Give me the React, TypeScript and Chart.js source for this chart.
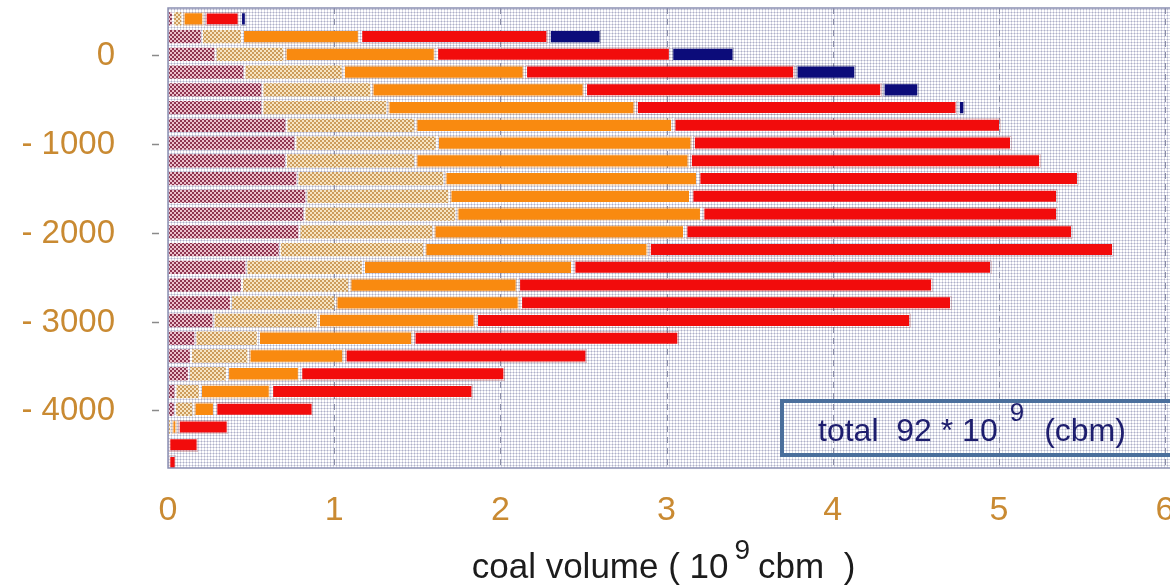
import React, { useEffect, useRef } from 'react';
import { Chart, registerables } from 'chart.js';

Chart.register(...registerables);

// Depth of each coal layer band (m)
const depths = [400, 200, 0, -200, -400, -600, -800, -1000, -1200, -1400, -1600, -1800, -2000, -2200, -2400, -2600, -2800, -3000, -3200, -3400, -3600, -3800, -4000, -4200, -4400, -4600];

// Volumes per class (10^9 cbm)
const mauveVals = [0.03, 0.204, 0.286, 0.46, 0.568, 0.568, 0.713, 0.767, 0.71, 0.779, 0.833, 0.821, 0.791, 0.673, 0.472, 0.445, 0.379, 0.274, 0.165, 0.138, 0.126, 0.045, 0.042, 0, 0, 0];
const tanVals = [0.057, 0.241, 0.415, 0.592, 0.656, 0.752, 0.775, 0.851, 0.778, 0.884, 0.86, 0.914, 0.806, 0.869, 0.701, 0.646, 0.628, 0.628, 0.376, 0.346, 0.229, 0.147, 0.111, 0.02, 0, 0];
const orangeVals = [0.132, 0.71, 0.911, 1.095, 1.284, 1.494, 1.552, 1.539, 1.651, 1.527, 1.455, 1.479, 1.515, 1.35, 1.265, 1.014, 1.11, 0.95, 0.935, 0.577, 0.439, 0.427, 0.13, 0.037, 0, 0];
const redVals = [0.214, 1.136, 1.416, 1.629, 1.792, 1.939, 1.975, 1.924, 2.117, 2.294, 2.21, 2.144, 2.336, 2.803, 2.523, 2.501, 2.603, 2.622, 1.603, 1.465, 1.238, 1.221, 0.595, 0.31, 0.186, 0.054];
const navyVals = [0.042, 0.319, 0.382, 0.367, 0.222, 0.046, 0, 0, 0, 0, 0, 0, 0, 0, 0, 0, 0, 0, 0, 0, 0, 0, 0, 0, 0, 0];

const xTicks = [0, 1, 2, 3, 4, 5, 6];
const xTickLabels = ['0', '1', '2', '3', '4', '5', '6'];
const yTicks = [0, -1000, -2000, -3000, -4000];
const yTickLabels = ['0', '- 1000', '- 2000', '- 3000', '- 4000'];
const xTitleParts = ['coal volume ( 10', '9', 'cbm  )'];
const totalParts = ['total  92 * 10', '9', '(cbm)'];

const FONT = '"Liberation Sans", Arial, sans-serif';

function makePattern(size: number, draw: (c: CanvasRenderingContext2D) => void) {
  const cv = document.createElement('canvas');
  cv.width = size;
  cv.height = size;
  const c = cv.getContext('2d')!;
  draw(c);
  return c.createPattern(cv, 'repeat')!;
}

export default function App() {
  const ref = useRef<HTMLCanvasElement>(null);

  useEffect(() => {
    const canvas = ref.current!;
    const mauvePat = makePattern(4, (c) => {
      c.fillStyle = '#ecc0cc';
      c.fillRect(0, 0, 4, 4);
      c.fillStyle = '#8e3550';
      c.fillRect(0, 0, 2, 2);
      c.fillRect(2, 2, 2, 2);
    });
    const tanPat = makePattern(4, (c) => {
      c.fillStyle = '#f7e4c2';
      c.fillRect(0, 0, 4, 4);
      c.fillStyle = '#cc9c5c';
      c.fillRect(0, 0, 2, 2);
      c.fillRect(2, 2, 2, 2);
    });
    const bgPat = makePattern(3, (c) => {
      c.fillStyle = '#ffffff';
      c.fillRect(0, 0, 3, 3);
      c.fillStyle = '#d8d9e6';
      c.fillRect(0, 0, 3, 1);
      c.fillRect(0, 0, 1, 3);
      c.fillStyle = '#aeb0c8';
      c.fillRect(0, 0, 1, 1);
    });

    const toPts = (vals: number[]) => vals.map((v, i) => ({ x: v > 0 ? v : null, y: depths[i] }));

    const decor = {
      id: 'decor',
      beforeDraw(chart: any) {
        const { ctx, chartArea: a } = chart;
        ctx.save();
        ctx.fillStyle = bgPat;
        ctx.fillRect(a.left, a.top, a.right - a.left + 10, a.bottom - a.top);
        ctx.restore();
      },
      beforeDatasetsDraw(chart: any) {
        const { ctx, chartArea: a } = chart;
        const xs = chart.scales.x;
        ctx.save();
        ctx.strokeStyle = '#8a8da6';
        ctx.lineWidth = 1;
        ctx.setLineDash([6, 5]);
        xTicks.forEach((v) => {
          if (v === 0) return;
          const px = Math.round(xs.getPixelForValue(v)) + 0.5;
          ctx.beginPath();
          ctx.moveTo(px, a.top);
          ctx.lineTo(px, a.bottom);
          ctx.stroke();
        });
        ctx.restore();
      },
      afterDatasetsDraw(chart: any) {
        const { ctx, chartArea: a } = chart;
        const ys = chart.scales.y;
        ctx.save();
        // frame
        ctx.strokeStyle = '#8c90b2';
        ctx.lineWidth = 1.5;
        ctx.beginPath();
        ctx.moveTo(a.right + 10, a.top);
        ctx.lineTo(a.left, a.top);
        ctx.lineTo(a.left, a.bottom);
        ctx.lineTo(a.right + 10, a.bottom);
        ctx.stroke();
        // y tick dashes
        ctx.strokeStyle = '#8a8a8a';
        ctx.lineWidth = 1.5;
        yTicks.forEach((v) => {
          const py = Math.round(ys.getPixelForValue(v)) + 1.5;
          ctx.beginPath();
          ctx.moveTo(a.left - 16, py);
          ctx.lineTo(a.left - 9, py);
          ctx.stroke();
        });
        // total box
        const bx = 782, by = 401, bw = 420, bh = 54;
        ctx.strokeStyle = '#4a6e9c';
        ctx.lineWidth = 4;
        ctx.strokeRect(bx, by, bw, bh);
        ctx.fillStyle = '#1e1e6e';
        ctx.textBaseline = 'alphabetic';
        ctx.textAlign = 'left';
        ctx.font = `32px ${FONT}`;
        let tx = 818;
        ctx.fillText(totalParts[0], tx, 441);
        tx += ctx.measureText(totalParts[0]).width + 12;
        ctx.font = `26px ${FONT}`;
        ctx.fillText(totalParts[1], tx, 421);
        tx += ctx.measureText(totalParts[1]).width + 20;
        ctx.font = `32px ${FONT}`;
        ctx.fillText(totalParts[2], tx, 441);
        ctx.restore();
      },
      afterDraw(chart: any) {
        const { ctx } = chart;
        const xs = chart.scales.x;
        const cx = (xs.getPixelForValue(0) + xs.getPixelForValue(6)) / 2;
        ctx.save();
        ctx.fillStyle = '#1c1c1c';
        ctx.textBaseline = 'alphabetic';
        ctx.textAlign = 'left';
        ctx.font = `35px ${FONT}`;
        const w1 = ctx.measureText(xTitleParts[0]).width;
        const w3 = ctx.measureText(xTitleParts[2]).width;
        ctx.font = `28px ${FONT}`;
        const w2 = ctx.measureText(xTitleParts[1]).width;
        const total = w1 + 6 + w2 + 8 + w3;
        let tx = cx - total / 2 - 3;
        ctx.font = `35px ${FONT}`;
        ctx.fillText(xTitleParts[0], tx, 578);
        tx += w1 + 6;
        ctx.font = `28px ${FONT}`;
        ctx.fillText(xTitleParts[1], tx, 559);
        tx += w2 + 8;
        ctx.font = `35px ${FONT}`;
        ctx.fillText(xTitleParts[2], tx, 578);
        ctx.restore();
      },
    };

    const common = {
      barThickness: 15.5,
      inflateAmount: -1.1,
      borderSkipped: false,
    };

    const chart = new Chart(canvas, {
      type: 'bar',
      data: {
        datasets: [
          { label: 'class 1', data: toPts(mauveVals), backgroundColor: mauvePat, borderWidth: 0, ...common },
          { label: 'class 2', data: toPts(tanVals), backgroundColor: tanPat, borderWidth: 0, ...common },
          { label: 'class 3', data: toPts(orangeVals), backgroundColor: '#f98a10', borderColor: '#d06c08', borderWidth: 1, ...common },
          { label: 'class 4', data: toPts(redVals), backgroundColor: '#f20c0c', borderColor: '#8a0808', borderWidth: 1.2, ...common },
          { label: 'class 5', data: toPts(navyVals), backgroundColor: '#0c0c7a', borderColor: '#05053e', borderWidth: 1, ...common },
        ] as any,
      },
      options: {
        indexAxis: 'y',
        animation: false,
        responsive: true,
        maintainAspectRatio: false,
        layout: { padding: { top: 8, right: 0, left: 0, bottom: 0 }, autoPadding: false },
        plugins: { legend: { display: false }, tooltip: { enabled: false } },
        scales: {
          x: {
            type: 'linear',
            stacked: true,
            offset: false,
            min: 0,
            max: 6.03,
            grid: { display: false, drawTicks: false },
            border: { display: false },
            afterBuildTicks: (s: any) => { s.ticks = xTicks.map((v) => ({ value: v })); },
            afterFit: (s: any) => { s.height = 119; s.paddingLeft = 0; s.paddingRight = 0; s.paddingTop = 0; s.paddingBottom = 0; },
            ticks: {
              color: '#c98a32',
              font: { family: FONT, size: 34 },
              padding: 22,
              maxRotation: 0,
              autoSkip: false,
              callback: (v: any) => xTickLabels[xTicks.indexOf(Number(v))] ?? '',
            },
          },
          y: {
            type: 'linear',
            stacked: true,
            offset: false,
            min: -4662,
            max: 522,
            grid: { display: false, drawTicks: false, offset: false },
            border: { display: false },
            afterBuildTicks: (s: any) => { s.ticks = yTicks.map((v) => ({ value: v })); },
            afterFit: (s: any) => { s.width = 168; s.paddingLeft = 0; s.paddingRight = 0; s.paddingTop = 0; s.paddingBottom = 0; },
            ticks: {
              color: '#c98a32',
              font: { family: FONT, size: 33 },
              padding: 53,
              labelOffset: 2,
              autoSkip: false,
              callback: (v: any) => yTickLabels[yTicks.indexOf(Number(v))] ?? '',
            },
          },
        },
      } as any,
      plugins: [decor],
    });
    return () => chart.destroy();
  }, []);

  return (
    <div style={{ position: 'fixed', left: 0, top: 0, width: 1170, height: 587, background: '#ffffff' }}>
      <canvas ref={ref} />
    </div>
  );
}
